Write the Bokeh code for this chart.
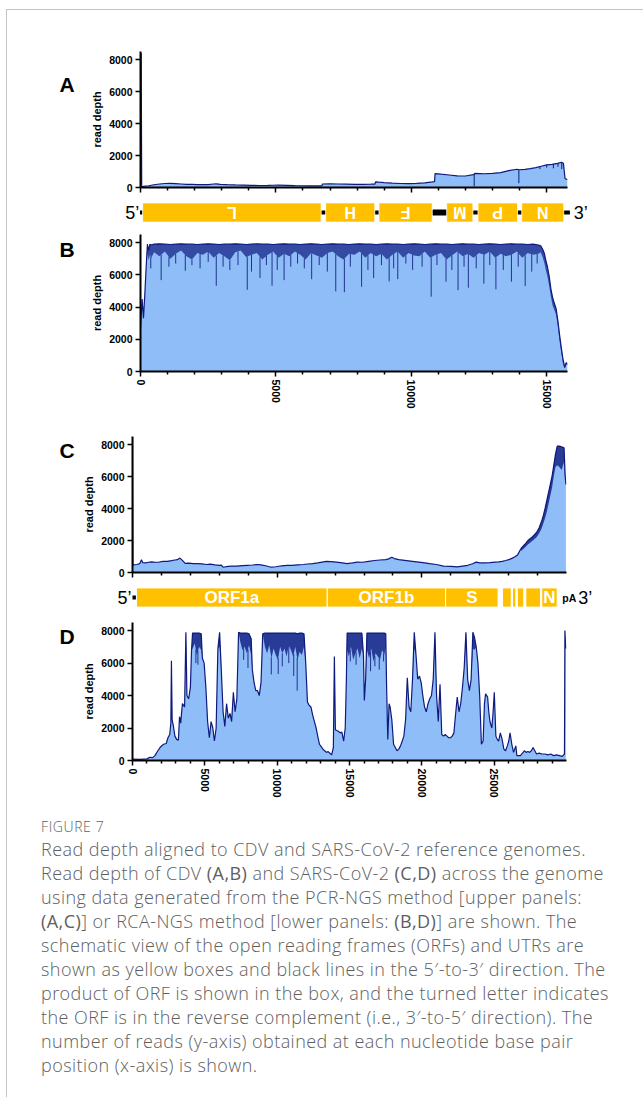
import numpy as np
from bokeh.plotting import figure
from bokeh.models import Range1d, FixedTicker, Div, CustomLabelingPolicy
from bokeh.layouts import column, row
from bokeh.embed import file_html
from bokeh.resources import INLINE
from bokeh.core.properties import value

# ---------------- data ----------------
# Panel A: CDV, PCR-NGS read depth
a_pos = [0, 25, 45, 100, 300, 500, 700, 900, 1100, 1300,
         1500, 1700, 1900, 2100, 2300, 2500, 2700, 2800, 2950, 3200,
         3500, 3800, 4100, 4400, 4700, 4900, 5100, 5400, 5700, 6000,
         6300, 6600, 6700, 6720, 7000, 7300, 7600, 7900, 8200, 8500,
         8660, 8680, 8800, 9000, 9300, 9600, 9900, 10200, 10500, 10780,
         10860, 10880, 11100, 11400, 11700, 12000, 12300, 12350, 12700, 13000,
         13300, 13600, 13900, 14000, 14200, 14400, 14600, 14800, 15000, 15200,
         15400, 15550, 15620, 15680, 15771]
a_depth = [8400, 8400, 60, 70, 110, 170, 220, 250, 260, 240,
           220, 200, 190, 180, 175, 180, 220, 230, 190, 175,
           160, 150, 130, 125, 130, 140, 145, 130, 115, 110,
           105, 100, 100, 220, 230, 220, 210, 190, 195, 205,
           215, 350, 330, 300, 270, 250, 245, 255, 290, 350,
           370, 870, 830, 780, 730, 720, 800, 880, 860, 880,
           930, 1050, 1140, 1110, 1130, 1180, 1240, 1330, 1410, 1450,
           1510, 1580, 1520, 560, 480]
a_dip_pos = [12325, 13975, 14750, 15000, 15250, 15420, 15560]
a_dip_depth = [80, 270, 1150, 1250, 1200, 1300, 1150]

# Panel B: CDV, RCA-NGS read depth (upper envelope / lower edge of noisy band)
b_pos = [0, 60, 110, 160, 210, 255, 300, 350, 400, 500,
         700, 900, 1100, 1300, 1500, 1700, 1900, 2100, 2300, 2500,
         2700, 2900, 3100, 3300, 3500, 3700, 3900, 4100, 4300, 4500,
         4700, 4900, 5100, 5300, 5500, 5700, 5900, 6100, 6300, 6500,
         6700, 6900, 7100, 7300, 7500, 7700, 7900, 8100, 8300, 8500,
         8700, 8900, 9100, 9300, 9500, 9700, 9900, 10100, 10300, 10500,
         10700, 10900, 11100, 11300, 11500, 11700, 11900, 12100, 12300, 12500,
         12700, 12900, 13100, 13300, 13500, 13700, 13900, 14100, 14300, 14500,
         14700, 14780, 14850, 14920, 14970, 15030, 15095, 15160, 15220, 15290,
         15350, 15420, 15476, 15540, 15601, 15667, 15720, 15771]
b_hi = [2700, 4500, 3300, 4800, 6500, 7900, 7500, 7900, 7850, 7900,
        7920, 7900, 7880, 7900, 7920, 7900, 7900, 7880, 7900, 7920,
        7900, 7880, 7900, 7900, 7920, 7900, 7880, 7900, 7920, 7900,
        7900, 7880, 7900, 7920, 7900, 7900, 7880, 7900, 7920, 7900,
        7880, 7900, 7920, 7900, 7900, 7880, 7900, 7920, 7900, 7900,
        7880, 7900, 7920, 7900, 7900, 7880, 7900, 7920, 7900, 7880,
        7900, 7920, 7900, 7900, 7880, 7900, 7920, 7900, 7900, 7880,
        7900, 7920, 7900, 7880, 7900, 7920, 7900, 7900, 7880, 7900,
        7850, 7800, 7600, 7300, 6900, 6500, 5900, 5100, 4600, 4200,
        3900, 3100, 2300, 1500, 800, 250, 550, 450]
b_lo = [2700, 4500, 3300, 4800, 6500, 7350, 6900, 7250, 7050, 7400,
        7150, 7450, 7000, 7300, 7500, 7150, 6950, 7350, 7250, 7450,
        7050, 7350, 7150, 6900, 7400, 7500, 7100, 7250, 7350, 6950,
        7250, 7450, 7050, 7300, 7150, 7450, 7250, 6950, 7350, 7200,
        7050, 7350, 7450, 7150, 6950, 7300, 7250, 7450, 7050, 7350,
        7150, 7300, 6950, 7250, 7450, 7050, 7350, 7200, 7150, 7450,
        7050, 7250, 7350, 6950, 7200, 7450, 7150, 7300, 7050, 7350,
        7250, 7450, 7050, 7300, 7150, 7250, 7450, 7050, 7350, 7250,
        7300, 7400, 7100, 6700, 6300, 5900, 5300, 4600, 4100, 3800,
        3500, 2700, 1900, 1200, 500, 200, 450, 400]
b_dip_pos = [763, 1654, 2798, 3943, 4414, 4859, 5304, 6322, 7212, 7530,
             8166, 8611, 9184, 9502, 10736, 11283, 11728, 12109, 12682, 13127,
             13700, 14208,
             380, 1050, 1300, 1900, 2200, 2500, 3050, 3300, 3600, 4100,
             4650, 5050, 5550, 5800, 6050, 6600, 6900, 7750, 8400, 8900,
             9350, 9800, 10050, 10400, 10950, 11500, 11950, 12400, 12900, 13400,
             13950, 14450, 14650]
b_dip_depth = [5670, 6250, 5320, 5070, 5800, 5320, 5670, 5730, 4970, 4920,
               5260, 5800, 5590, 5730, 4640, 5570, 5050, 5200, 5450, 5100,
               5570, 5300,
               6400, 6500, 6700, 6600, 6400, 6800, 6500, 6300, 6600, 6200,
               6600, 6300, 6500, 6700, 6400, 6600, 6200, 6500, 6300, 6600,
               6400, 6700, 6300, 6500, 6600, 6300, 6500, 6400, 6600, 6300,
               6500, 6200, 6700]

# Panel C: SARS-CoV-2, PCR-NGS read depth
c_pos = [0, 30, 60, 300, 500, 620, 700, 900, 1100, 1300,
         1500, 1800, 2100, 2400, 2700, 2930, 3100, 3280, 3450, 3640,
         3900, 4200, 4500, 4800, 5100, 5400, 5700, 6000, 6140, 6260,
         6600, 6900, 7210, 7600, 7930, 8300, 8600, 8880, 9200, 9590,
         9900, 10300, 10700, 11020, 11400, 11800, 12100, 12450, 12800, 13100,
         13400, 13700, 14110, 14500, 14830, 15200, 15540, 15900, 16300, 16730,
         17100, 17500, 17700, 17920, 18100, 18400, 18800, 19350, 19800, 20200,
         20540, 21000, 21490, 22000, 22440, 22800, 23160, 23500, 23750, 24000,
         24350, 24700, 25060, 25300, 25540, 25800, 26050, 26250, 26450, 26610,
         26850, 27100, 27320, 27600, 27920, 28100, 28270, 28400, 28510, 28630,
         28750, 28870, 28990, 29110, 29230, 29350, 29500, 29650, 29820, 29900,
         29950]
c_depth = [8400, 450, 480, 500, 550, 800, 620, 600, 640, 660,
           650, 640, 690, 700, 740, 780, 800, 900, 760, 570,
           580, 560, 550, 540, 500, 520, 480, 450, 460, 330,
           380, 400, 400, 430, 450, 470, 500, 480, 420, 330,
           360, 420, 450, 450, 480, 500, 530, 550, 600, 650,
           700, 680, 650, 600, 550, 600, 650, 640, 700, 750,
           780, 800, 850, 950, 870, 800, 760, 700, 650, 600,
           550, 500, 400, 380, 350, 400, 450, 550, 650, 600,
           600, 620, 650, 660, 700, 750, 820, 900, 1000, 1100,
           1500, 1750, 2000, 2200, 2500, 2800, 3200, 3600, 4000, 4500,
           5000, 5500, 6000, 6700, 7400, 7900, 7900, 7850, 7800, 6000,
           5500]
c_band_pos = [26850, 27100, 27320, 27600, 27920, 28100, 28270, 28400, 28510, 28630,
              28750, 28870, 28990, 29110, 29230, 29350, 29500, 29650, 29820, 29900]
c_band_hi = [1500, 1750, 2000, 2200, 2500, 2800, 3200, 3600, 4000, 4500,
             5000, 5500, 6000, 6700, 7400, 7900, 7900, 7850, 7800, 6000]
c_band_lo = [1350, 1550, 1750, 1950, 2200, 2450, 2750, 3100, 3400, 3800,
             4300, 4800, 5300, 6000, 6600, 6700, 6600, 6400, 6900, 5700]

# Panel D: SARS-CoV-2, RCA-NGS read depth
d_pos = [0, 500, 1000, 1200, 1400, 1550, 1750, 1950, 2150, 2330,
         2450, 2570, 2650, 2690, 2740, 2810, 2930, 3050, 3170, 3250,
         3330, 3450, 3600, 3690, 3760, 3880, 4000, 4080, 4150, 4300,
         4450, 4600, 4750, 4830, 4950, 5070, 5190, 5310, 5430, 5550,
         5660, 5780, 5900, 6020, 6140, 6260, 6380, 6500, 6620, 6740,
         6850, 6970, 7090, 7210, 7330, 7450, 7600, 7750, 7900, 8050,
         8200, 8280, 8400, 8520, 8640, 8760, 8880, 9000, 9150, 9300,
         9450, 9600, 9750, 9900, 10050, 10200, 10350, 10500, 10650, 10800,
         10950, 11100, 11250, 11400, 11550, 11700, 11850, 11970, 12090, 12200,
         12330, 12450, 12570, 12690, 12800, 12920, 13040, 13160, 13280, 13400,
         13520, 13640, 13760, 13880, 13950, 14020, 14110, 14230, 14350, 14470,
         14590, 14700, 14780, 14830, 14950, 15100, 15250, 15400, 15550, 15700,
         15850, 15960, 16020, 16110, 16200, 16350, 16500, 16650, 16800, 16950,
         17100, 17250, 17400, 17500, 17560, 17640, 17730, 17800, 17920, 18040,
         18160, 18280, 18400, 18520, 18640, 18750, 18870, 18990, 19110, 19230,
         19350, 19470, 19590, 19710, 19830, 19950, 20060, 20180, 20300, 20420,
         20540, 20660, 20780, 20900, 21010, 21130, 21250, 21370, 21490, 21610,
         21730, 21850, 21970, 22090, 22210, 22320, 22440, 22560, 22680, 22800,
         22920, 23040, 23160, 23280, 23400, 23520, 23630, 23750, 23870, 23990,
         24110, 24230, 24320, 24400, 24540, 24620, 24700, 24830, 24920, 25000,
         25110, 25200, 25300, 25420, 25540, 25660, 25780, 25900, 26000, 26090,
         26210, 26330, 26490, 26560, 26700, 26800, 26950, 27080, 27200, 27320,
         27440, 27560, 27680, 27800, 27920, 28100, 28300, 28500, 28700, 28900,
         29100, 29300, 29500, 29700, 29850, 29880, 29940]
d_depth = [80, 70, 100, 200, 180, 300, 600, 850, 1000, 1050,
           1400, 1600, 2300, 6150, 2500, 2200, 1500, 1300, 1250, 2700,
           2300, 3500, 3300, 7900, 4000, 3800, 4500, 6800, 7850, 7850,
           7850, 7850, 7800, 6300, 6000, 4500, 2400, 1400, 2400, 2000,
           1200, 2000, 6900, 7900, 5500, 3000, 2100, 3500, 2600, 2900,
           2400, 4200, 3000, 3800, 7900, 7850, 7850, 7850, 7850, 7800,
           7500, 5600, 4800, 4300, 4300, 4000, 4800, 7800, 7850, 7850,
           7850, 7850, 7850, 7850, 7850, 7850, 7850, 7850, 7850, 7850,
           7850, 7850, 7850, 7800, 7850, 7850, 7800, 6000, 3600, 3400,
           3300, 2800, 2400, 2000, 1500, 1000, 850, 700, 600, 500,
           550, 450, 350, 800, 6400, 1900, 1850, 1800, 1700, 1750,
           1200, 2000, 5000, 7850, 7850, 7850, 7850, 7850, 7850, 7850,
           7850, 6500, 3700, 5000, 7850, 7850, 7850, 7850, 7850, 7850,
           7850, 7850, 7850, 7800, 4500, 1300, 3500, 3300, 2500, 1000,
           800, 600, 700, 900, 1200, 1500, 2500, 5100, 3300, 3000,
           5000, 7900, 6500, 5000, 5200, 4800, 4000, 3300, 3000, 3500,
           3800, 4000, 5000, 7900, 4000, 2400, 4700, 1600, 1500, 1600,
           1500, 1400, 1400, 1500, 1700, 2800, 3900, 3000, 3500, 4500,
           5700, 7900, 5000, 4300, 5000, 7900, 7600, 7000, 6000, 4000,
           1000, 1200, 3500, 4100, 3900, 3000, 2400, 2000, 3000, 4200,
           1500, 1300, 1200, 1700, 1300, 700, 600, 900, 1200, 1700,
           1000, 500, 900, 300, 300, 300, 450, 600, 500, 550,
           500, 600, 800, 600, 400, 450, 400, 400, 350, 400,
           300, 350, 300, 250, 400, 8000, 6900]
d_band_pos = [3690, 4150, 4300, 4450, 4600, 4750, 6020, 7450, 7600, 7750,
              7900, 8050, 8200, 9150, 9300, 9450, 9600, 9750, 9900, 10050,
              10200, 10350, 10500, 10650, 10800, 10950, 11100, 11250, 11400, 11550,
              11700, 11850, 14830, 14950, 15100, 15250, 15400, 15550, 15700, 15850,
              16200, 16350, 16500, 16650, 16800, 16950, 17100, 17250, 17400, 17500,
              19470, 20900, 23040, 23520, 23630]
d_band_lo = [7300, 6900, 7200, 6500, 7000, 6800, 7000, 7300, 6800, 7000,
             6600, 7100, 6500, 7000, 6600, 7100, 6300, 6900, 6500, 6200,
             7000, 6600, 6900, 6400, 7100, 6800, 6400, 7000, 6200, 6700,
             6500, 7000, 6800, 6400, 7000, 6200, 6600, 6900, 6300, 6900,
             6800, 6300, 6900, 6100, 6600, 6400, 6200, 6800, 6500, 7000,
             6900, 7000, 7100, 6900, 6800]
d_dip_pos = [4380, 4520, 7680, 7980, 9590, 10070, 10350, 10800, 11140, 11380,
             15050, 15450, 16450, 16750, 17050, 17350]
d_dip_depth = [6000, 5900, 6200, 5700, 5300, 5330, 5800, 6000, 5200, 4300,
               6100, 5900, 5500, 5800, 5600, 6100]

# genome maps
cdv_genes = ["L", "H", "F", "M", "P", "N"]
cdv_start = [77, 6838, 8808, 11310, 12465, 14081]
cdv_end = [6672, 8653, 10775, 12277, 13926, 15631]
cdv_line_end = 15860
sars_genes = ["ORF1a", "ORF1b", "S", "", "", "", "", "N"]
sars_start = [269, 13457, 21635, 25570, 26260, 26590, 27180, 28280]
sars_end = [13457, 21635, 25260, 26170, 26490, 27040, 28190, 29345]

# axes
y_ticks = [0, 2000, 4000, 6000, 8000]
cdv_ticks = [0, 5000, 10000, 15000]
cdv_minor = [1000, 2000, 3000, 4000, 6000, 7000, 8000, 9000, 11000, 12000, 13000, 14000]
c_ticks = [0, 10000, 20000]
c_minor = [2000, 4000, 6000, 8000, 12000, 14000, 16000, 18000, 22000, 24000, 26000, 28000]
d_ticks = [0, 5000, 10000, 15000, 20000, 25000]
d_minor = [1000, 2000, 3000, 4000, 6000, 7000, 8000, 9000, 11000, 12000, 13000, 14000,
           16000, 17000, 18000, 19000, 21000, 22000, 23000, 24000, 26000, 27000, 28000, 29000]

# ---------------- style / layout ----------------
W = 636          # content width (page x 7 .. 643)
LW = 73          # width of the panel-letter strip
PW = W - LW      # width of each plot figure
AREA = "#8ebdf7"
NAVY = "#0f1a7e"
GOLD = "#ffc000"
FONT = "Liberation Sans"
YMAX = 8500


def make_panel(xr, height, top, bottom, left, right, xticks, xminor, show_x):
    p = figure(width=PW, height=height, x_range=xr, y_range=Range1d(0, YMAX),
               output_backend="svg", toolbar_location=None,
               min_border_left=left, min_border_right=right,
               min_border_top=top, min_border_bottom=bottom)
    p.outline_line_color = None
    p.xgrid.visible = False
    p.ygrid.visible = False
    p.xaxis.ticker = FixedTicker(ticks=xticks, minor_ticks=xminor)
    p.yaxis.ticker = FixedTicker(ticks=y_ticks, minor_ticks=[])
    for ax in p.axis:
        ax.axis_line_color = "black"
        ax.axis_line_width = 2
        ax.major_tick_line_width = 1.5
        ax.minor_tick_line_width = 1.5
        ax.major_tick_out = 5
        ax.major_tick_in = 0
        ax.minor_tick_out = 3
        ax.minor_tick_in = 0
        ax.major_label_text_font = FONT
        ax.major_label_text_font_style = "bold"
        ax.major_label_text_font_size = "10.5px"
        ax.major_label_text_color = "black"
        ax.major_label_standoff = 3
    p.yaxis.axis_label = "read depth"
    p.yaxis.axis_label_text_font = FONT
    p.yaxis.axis_label_text_font_style = "bold"
    p.yaxis.axis_label_text_font_size = "11px"
    p.yaxis.axis_label_text_color = "black"
    p.yaxis.axis_label_standoff = 3
    if show_x:
        p.xaxis.major_label_orientation = "vertical"
    else:
        # the reference shows no tick labels on these axes
        p.xaxis.major_label_policy = CustomLabelingPolicy(code="return []")
        p.xaxis.major_label_text_font_size = "1px"
        p.xaxis.major_label_standoff = 0
    return p


def letter_strip(height, txt, y_in_fig):
    f = figure(width=LW, height=height, x_range=Range1d(0, LW),
               y_range=Range1d(height, 0), output_backend="svg",
               toolbar_location=None, min_border=0,
               x_axis_location=None, y_axis_location=None)
    f.outline_line_color = None
    f.grid.visible = False
    f.text(x=[59.5], y=[y_in_fig], text=[txt], text_align="center",
           text_baseline="middle", text_font=value(FONT), text_font_style="bold",
           text_font_size="21px", text_color="black")
    return f


def make_map(xr, frame_left):
    # frame spans the full strip; range chosen so the scale matches the panel above
    k = (xr["fw"]) / (xr["end"] - xr["start"])
    start = xr["start"] - frame_left / k
    end = start + W / k
    s = figure(width=W, height=32, x_range=Range1d(start, end), y_range=Range1d(-1, 1),
               output_backend="svg", toolbar_location=None, min_border=0,
               x_axis_location=None, y_axis_location=None)
    s.outline_line_color = None
    s.grid.visible = False
    return s


CDV_X = dict(start=0, end=15771, fw=427)
SARS_X = dict(start=0, end=29990, fw=434)
xr_cdv = Range1d(CDV_X["start"], CDV_X["end"])
xr_sars = Range1d(SARS_X["start"], SARS_X["end"])
L_CDV = 140 - 7 - LW           # frame left at page x 140
R_CDV = PW - L_CDV - CDV_X["fw"]
L_SARS = 132 - 7 - LW          # frame left at page x 132
R_SARS = PW - L_SARS - SARS_X["fw"]

# A
pA = make_panel(xr_cdv, 186, 41, 8, L_CDV, R_CDV, cdv_ticks, cdv_minor, False)
pA.varea(x=a_pos, y1=0, y2=a_depth, fill_color=AREA)
a_dip_top = np.interp(a_dip_pos, a_pos, a_depth)
pA.segment(x0=a_dip_pos, y0=a_dip_top, x1=a_dip_pos, y1=a_dip_depth,
           line_color=NAVY, line_width=1)
pA.line(a_pos, a_depth, line_color=NAVY, line_width=1.2)
rowA = row(letter_strip(186, "A", 45.5), pA, spacing=0)

# CDV genome map
sA = make_map(CDV_X, 140 - 7)
sA.quad(left=[-20], right=[cdv_line_end], bottom=[-0.13], top=[0.13],
        fill_color="black", line_color=None)
sA.quad(left=[cdv_end[2]], right=[cdv_start[3]], bottom=[-0.18], top=[0.18],
        fill_color="black", line_color=None)
sA.quad(left=cdv_start, right=cdv_end, bottom=-0.6, top=0.6,
        fill_color=GOLD, line_color="white", line_width=0.8)
cdv_mid = [(s0 + e0) / 2 for s0, e0 in zip(cdv_start, cdv_end)]
sA.text(x=cdv_mid, y=0, text=cdv_genes, angle=np.pi, text_align="center",
        text_baseline="middle", text_color="white", text_font=value(FONT),
        text_font_style="bold", text_font_size="16px")
sA.text(x=[-50], y=[-0.05], text=["5\u2019"], text_align="right",
        text_baseline="middle", text_font=value(FONT), text_font_size="18px",
        text_color="black")
sA.text(x=[16000], y=[-0.05], text=["3\u2019"], text_align="left",
        text_baseline="middle", text_font=value(FONT), text_font_size="18px",
        text_color="black")

# B
pB = make_panel(xr_cdv, 192, 6, 49, L_CDV, R_CDV, cdv_ticks, cdv_minor, True)
pB.varea(x=b_pos, y1=0, y2=b_hi, fill_color=AREA)
pB.varea(x=b_pos, y1=b_lo, y2=b_hi, fill_color=NAVY, fill_alpha=0.7)
b_dip_top = np.interp(b_dip_pos, b_pos, b_lo)
pB.segment(x0=b_dip_pos, y0=b_dip_top, x1=b_dip_pos, y1=b_dip_depth,
           line_color=NAVY, line_width=1, line_alpha=0.85)
pB.line(b_pos, b_hi, line_color=NAVY, line_width=1.2)
rowB = row(letter_strip(192, "B", 21), pB, spacing=0)

# C
pC = make_panel(xr_sars, 161, 16, 8, L_SARS, R_SARS, c_ticks, c_minor, False)
pC.varea(x=c_pos, y1=0, y2=c_depth, fill_color=AREA)
pC.varea(x=c_band_pos, y1=c_band_lo, y2=c_band_hi, fill_color=NAVY, fill_alpha=0.8)
pC.line(c_pos, c_depth, line_color=NAVY, line_width=1.2)
rowC = row(letter_strip(161, "C", 16.7), pC, spacing=0)

# SARS-CoV-2 genome map
sC = make_map(SARS_X, 132 - 7)
sC.quad(left=[0], right=[sars_start[0]], bottom=[-0.13], top=[0.13],
        fill_color="black", line_color=None)
sC.quad(left=sars_start, right=sars_end, bottom=-0.6, top=0.6,
        fill_color=GOLD, line_color="white", line_width=1)
lab_idx = [i for i, g in enumerate(sars_genes) if g]
sC.text(x=[(sars_start[i] + sars_end[i]) / 2 for i in lab_idx], y=0,
        text=[sars_genes[i] for i in lab_idx], text_align="center",
        text_baseline="middle", text_color="white", text_font=value(FONT),
        text_font_style="bold", text_font_size="17px")
sC.text(x=[-70], y=[-0.05], text=["5\u2019"], text_align="right",
        text_baseline="middle", text_font=value(FONT), text_font_size="18px",
        text_color="black")
sC.text(x=[29700], y=[-0.05], text=["pA"], text_align="left",
        text_baseline="middle", text_font=value(FONT), text_font_style="bold",
        text_font_size="10.5px", text_color="black")
sC.text(x=[30800], y=[-0.05], text=["3\u2019"], text_align="left",
        text_baseline="middle", text_font=value(FONT), text_font_size="18px",
        text_color="black")

# D
pD = make_panel(xr_sars, 197, 9, 50, L_SARS, R_SARS, d_ticks, d_minor, True)
band = dict(zip(d_band_pos, d_band_lo))
d_lo = [band.get(p0, h0) for p0, h0 in zip(d_pos, d_depth)]
pD.varea(x=d_pos, y1=0, y2=d_depth, fill_color=AREA)
pD.varea(x=d_pos, y1=d_lo, y2=d_depth, fill_color=NAVY, fill_alpha=0.8)
d_dip_top = np.interp(d_dip_pos, d_pos, d_lo)
pD.segment(x0=d_dip_pos, y0=d_dip_top, x1=d_dip_pos, y1=d_dip_depth,
           line_color=NAVY, line_width=1, line_alpha=0.85)
pD.line(d_pos, d_depth, line_color=NAVY, line_width=1.2)
rowD = row(letter_strip(197, "D", 20.3), pD, spacing=0)

# ---------------- caption ----------------
caption_lines = [
    "Read depth aligned to CDV and SARS-CoV-2 reference genomes.",
    "Read depth of CDV <b>(A,B)</b> and SARS-CoV-2 <b>(C,D)</b> across the genome",
    "using data generated from the PCR-NGS method [upper panels:",
    "<b>(A,C)</b>] or RCA-NGS method [lower panels: <b>(B,D)</b>] are shown. The",
    "schematic view of the open reading frames (ORFs) and UTRs are",
    "shown as yellow boxes and black lines in the 5\u2032-to-3\u2032 direction. The",
    "product of ORF is shown in the box, and the turned letter indicates",
    "the ORF is in the reverse complement (i.e., 3\u2032-to-5\u2032 direction). The",
    "number of reads (y-axis) obtained at each nucleotide base pair",
    "position (x-axis) is shown.",
]
caption_html = (
    "<div style=\"font-family:'Open Sans',sans-serif;color:#5d5e60;padding-left:34px;font-weight:300;\">"
    "<div style=\"font-size:14px;line-height:20px;padding-top:7px;letter-spacing:0.6px;\">FIGURE 7</div>"
    "<div style=\"font-size:18px;line-height:24px;white-space:nowrap;letter-spacing:0.45px;\">"
    + "<br>".join(caption_lines) +
    "</div></div>"
)
cap = Div(text=caption_html, width=W, height=287, margin=(0, 0, 0, 0))

layout = column(rowA, sA, rowB, rowC, sC, rowD, cap, spacing=0,
                margin=(9, 0, 0, 6),
                styles={"border-top": "1px solid #c4c4c4",
                        "border-left": "1px solid #c4c4c4"})

open("out.html", "w").write(file_html(layout, INLINE))
